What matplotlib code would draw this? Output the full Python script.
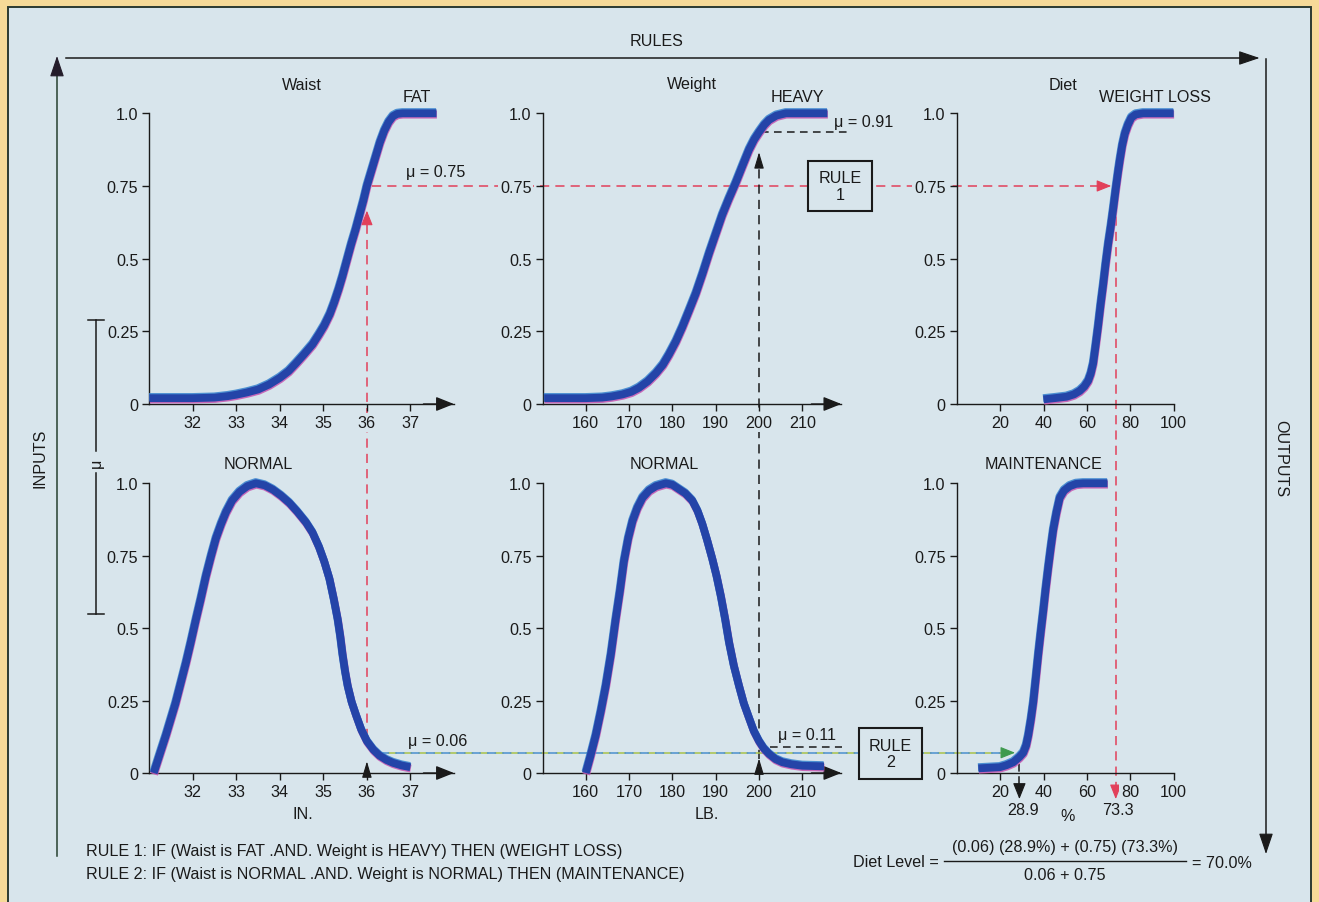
import matplotlib
matplotlib.use("Agg")
import matplotlib.pyplot as plt
from matplotlib.patches import Rectangle
import matplotlib.patheffects as pe

# ---------------- data ----------------
waist_fat_x = [31.0, 32.0, 32.5, 32.8, 33.0, 33.25, 33.5, 33.75, 34.0, 34.2,
               34.37, 34.55, 34.75, 34.9, 35.02, 35.15, 35.25, 35.35, 35.44, 35.54,
               35.64, 35.74, 35.83, 35.92, 36.0, 36.1, 36.2, 36.3, 36.4, 36.5,
               36.6, 36.7, 36.82, 37.6]
waist_fat_mu = [0.02, 0.02, 0.022, 0.027, 0.032, 0.04, 0.05, 0.067, 0.09, 0.113,
                0.14, 0.17, 0.205, 0.24, 0.27, 0.31, 0.35, 0.395, 0.44, 0.495,
                0.55, 0.60, 0.65, 0.70, 0.75, 0.80, 0.85, 0.90, 0.94, 0.97,
                0.99, 0.998, 1.0, 1.0]

waist_normal_x = [31.1, 31.25, 31.38, 31.5, 31.6, 31.72, 31.84, 31.95, 32.07, 32.18,
                  32.3, 32.42, 32.53, 32.65, 32.76, 32.9, 33.07, 33.25, 33.45, 33.65,
                  33.84, 34.03, 34.22, 34.4, 34.6, 34.75, 34.9, 35.02, 35.14, 35.24,
                  35.33, 35.39, 35.44, 35.5, 35.56, 35.65, 35.75, 35.87, 36.0, 36.15,
                  36.29, 36.45, 36.6, 36.8, 37.0]
waist_normal_mu = [0.0, 0.07, 0.13, 0.19, 0.24, 0.31, 0.38, 0.45, 0.53, 0.60,
                   0.68, 0.75, 0.81, 0.86, 0.90, 0.94, 0.97, 0.99, 1.0, 0.993,
                   0.978, 0.957, 0.932, 0.902, 0.865, 0.83, 0.78, 0.73, 0.67, 0.60,
                   0.53, 0.47, 0.41, 0.35, 0.30, 0.245, 0.20, 0.15, 0.11, 0.08,
                   0.06, 0.045, 0.035, 0.026, 0.02]

weight_heavy_x = [150.4, 160.0, 163.8, 166.0, 168.5, 170.5, 172.3, 174.3, 176.2, 177.8,
                  179.2, 180.8, 182.3, 183.8, 185.4, 187.0, 188.5, 190.0, 191.5, 193.0,
                  194.6, 196.2, 197.7, 198.9, 200.0, 201.2, 202.3, 204.0, 206.2, 215.8]
weight_heavy_mu = [0.02, 0.02, 0.022, 0.026, 0.033, 0.042, 0.056, 0.078, 0.106, 0.135,
                   0.17, 0.215, 0.265, 0.32, 0.38, 0.45, 0.52, 0.585, 0.65, 0.705,
                   0.76, 0.82, 0.875, 0.91, 0.935, 0.96, 0.977, 0.992, 1.0, 1.0]

weight_normal_x = [160.0, 161.1, 162.3, 163.5, 164.6, 165.8, 166.9, 167.9, 168.8, 169.8,
                   170.8, 171.9, 173.1, 174.6, 176.2, 178.5, 180.0, 181.5, 183.0, 184.6,
                   185.8, 186.9, 188.0, 189.2, 190.2, 191.2, 192.2, 193.1, 194.2, 195.4,
                   196.5, 197.7, 198.8, 200.0, 201.1, 202.3, 203.8, 205.4, 207.5, 210.0,
                   215.0]
weight_normal_mu = [0.0, 0.06, 0.13, 0.215, 0.30, 0.41, 0.53, 0.63, 0.73, 0.81,
                    0.87, 0.915, 0.95, 0.975, 0.99, 1.0, 0.995, 0.98, 0.965, 0.94,
                    0.905, 0.86, 0.805, 0.74, 0.68, 0.61, 0.53, 0.45, 0.37, 0.30,
                    0.24, 0.19, 0.145, 0.11, 0.085, 0.066, 0.048, 0.037, 0.03, 0.025,
                    0.023]

diet_loss_x = [40.0, 45.0, 50.6, 54.0, 56.7, 58.8, 60.6, 61.8, 62.9, 64.0,
               65.2, 66.3, 67.5, 68.6, 69.8, 71.0, 72.1, 73.3, 74.4, 75.2,
               76.3, 77.5, 78.9, 80.5, 82.5, 85.9, 100.0]
diet_loss_mu = [0.016, 0.02, 0.025, 0.033, 0.045, 0.06, 0.08, 0.105, 0.14, 0.20,
                0.27, 0.34, 0.41, 0.48, 0.55, 0.61, 0.67, 0.74, 0.80, 0.84,
                0.89, 0.93, 0.96, 0.985, 0.996, 1.0, 1.0]

diet_maint_x = [10.0, 15.0, 19.9, 23.0, 26.1, 28.9, 30.7, 32.0, 33.0, 34.2,
                35.3, 36.5, 37.6, 38.8, 39.9, 41.0, 42.2, 43.4, 44.5, 46.0,
                47.5, 49.5, 52.1, 55.0, 58.3, 69.5]
diet_maint_mu = [0.016, 0.018, 0.02, 0.027, 0.037, 0.055, 0.07, 0.095, 0.13, 0.185,
                 0.245, 0.33, 0.41, 0.49, 0.56, 0.635, 0.71, 0.78, 0.84, 0.90,
                 0.95, 0.975, 0.99, 0.998, 1.0, 1.0]

waist_ticks = [32, 33, 34, 35, 36, 37]
weight_ticks = [160, 170, 180, 190, 200, 210]
diet_ticks = [20, 40, 60, 80, 100]
mu_ticks = [0, 0.25, 0.5, 0.75, 1.0]
mu_tick_labels = ["0", "0.25", "0.5", "0.75", "1.0"]

waist_input = 36
weight_input = 200
mu_fat, mu_heavy, mu_wnormal, mu_lnormal = 0.75, 0.91, 0.06, 0.11
out_maint, out_loss, diet_level = 28.9, 73.3, 70.0

# ---------------- style ----------------
FONT = ["Liberation Sans Narrow", "Liberation Sans", "DejaVu Sans"]
plt.rcParams["font.family"] = FONT
FS = 11.6
YELLOW = "#f6da98"
PANEL = "#d8e5ec"
BLUE = "#2444a8"
RED = "#e2405a"
INK = "#1a1a1a"

W, H = 1319, 903
fig = plt.figure(figsize=(W / 100, H / 100), dpi=100)
fig.patch.set_facecolor(YELLOW)

bg = fig.add_axes([0, 0, 1, 1], zorder=0)
bg.set_xlim(0, W)
bg.set_ylim(H, 0)
bg.axis("off")
bg.add_patch(Rectangle((0, 0), W, H, fc=YELLOW, ec="none"))
bg.add_patch(Rectangle((8, 8), 1303, 905, fc=PANEL, ec="#2b3a31", lw=1.4))


def rect_px(left, top, width, height):
    return [left / W, 1 - (top + height) / H, width / W, height / H]


# panel geometry (pixels)
cols = {"waist": (149.4, 304.5, (31, 38)),
        "weight": (542.5, 298.8, (150, 219)),
        "diet": (956.7, 217.0, (0, 100))}
rows = {"top": (114.3, 290.7), "bot": (484.3, 289.7)}


def make_panel(col, row, xticks, arrow):
    left, width, xl = cols[col]
    top, height = rows[row]
    ax = fig.add_axes(rect_px(left, top, width, height), zorder=1)
    ax.set_facecolor("none")
    ax.set_xlim(*xl)
    ax.set_ylim(0, 1)
    for s in ("top", "right"):
        ax.spines[s].set_visible(False)
    for s in ("left", "bottom"):
        ax.spines[s].set_color(INK)
        ax.spines[s].set_linewidth(1.0)
    ax.set_xticks(xticks, [str(t) for t in xticks])
    ax.set_yticks(mu_ticks, mu_tick_labels)
    ax.tick_params(direction="out", length=5, width=1.0, colors=INK,
                   labelsize=FS, pad=3)
    for lab in ax.get_xticklabels() + ax.get_yticklabels():
        lab.set_bbox(dict(fc=PANEL, ec="none", pad=1.5))
    if arrow:
        ax.annotate("", xy=(1.0, 0), xytext=(0.9, 0), xycoords="axes fraction",
                    arrowprops=dict(arrowstyle="-|>,head_length=0.55,head_width=0.22",
                                    color=INK, lw=1.0, shrinkA=0, shrinkB=0,
                                    mutation_scale=20))
    return ax


axTL = make_panel("waist", "top", waist_ticks, True)
axTM = make_panel("weight", "top", weight_ticks, True)
axTR = make_panel("diet", "top", diet_ticks, False)
axBL = make_panel("waist", "bot", waist_ticks, True)
axBM = make_panel("weight", "bot", weight_ticks, True)
axBR = make_panel("diet", "bot", diet_ticks, False)

curve_fx = [pe.SimpleLineShadow(offset=(0.3, -1.0), shadow_color="#c65cb4", alpha=0.9),
            pe.SimpleLineShadow(offset=(-0.3, 0.9), shadow_color="#3d86cf", alpha=0.9),
            pe.Normal()]
for ax, xs, ys in [(axTL, waist_fat_x, waist_fat_mu),
                   (axTM, weight_heavy_x, weight_heavy_mu),
                   (axTR, diet_loss_x, diet_loss_mu),
                   (axBL, waist_normal_x, waist_normal_mu),
                   (axBM, weight_normal_x, weight_normal_mu),
                   (axBR, diet_maint_x, diet_maint_mu)]:
    ax.plot(xs, ys, color=BLUE, lw=5.6, solid_capstyle="butt",
            solid_joinstyle="round", clip_on=False, zorder=5, path_effects=curve_fx)


def P(ax, x, y):
    d = ax.transData.transform((x, y))
    return bg.transData.inverted().transform(d)


def head(tip, frm, color, hl=0.45, hw=0.18, ms=20):
    bg.annotate("", xy=tip, xytext=frm,
                arrowprops=dict(arrowstyle=f"-|>,head_length={hl},head_width={hw}",
                                color=color, lw=0.8, shrinkA=0, shrinkB=0,
                                mutation_scale=ms), zorder=4)


def dashed(p1, p2, color, lw=1.1, dash=(6, 4), offset=0, z=3):
    bg.plot([p1[0], p2[0]], [p1[1], p2[1]], color=color, lw=lw,
            ls=(offset, dash), zorder=z, solid_capstyle="butt")


# ---- red path: waist 36 -> mu 0.75 -> weight loss 73.3 ----
a = P(axBL, waist_input, 0.12)
b = P(axTL, waist_input, 0.665)
dashed(a, (b[0], b[1] + 10), RED)
head(b, (b[0], b[1] + 12), RED)

a = P(axTL, 36.12, mu_fat)
b = P(axTR, 71.2, mu_fat)
dashed(a, (b[0] - 10, b[1]), RED)
head(b, (b[0] - 12, b[1]), RED)

a = P(axTR, out_loss, mu_fat)
b = P(axBR, out_loss, -0.09)
dashed(a, (b[0], b[1] - 9), RED)
head(b, (b[0], b[1] - 11), RED)

# ---- black path: weight 200 ----
a = P(axBM, weight_input, 0.05)
b = P(axTM, weight_input, 0.866)
dashed(a, (b[0], b[1] + 10), INK)
head(b, (b[0], b[1] + 12), INK, hl=0.5, hw=0.15)
b = P(axBM, weight_input, 0.05)
head(b, (b[0], b[1] + 12), INK, hl=0.5, hw=0.15)

b = P(axBL, waist_input, 0.04)
head(b, (b[0], b[1] + 12), INK, hl=0.5, hw=0.15)

# mu = 0.91 and mu = 0.11 leader lines
dashed(P(axTM, 200.5, 0.934), P(axTM, 220.8, 0.934), INK, dash=(5, 3.5))
dashed(P(axBM, 202.5, 0.089), P(axBM, 219.1, 0.089), INK, dash=(5, 3.5))

# ---- green/blue path: mu 0.06 -> maintenance ----
a = P(axBL, 36.3, 0.07)
b = P(axBR, 26.9, 0.07)
dashed(a, (b[0] - 10, b[1]), "#a9c24a", lw=1.1, offset=5)
dashed(a, (b[0] - 10, b[1]), "#4a8fcf", lw=1.1)
head(b, (b[0] - 12, b[1]), "#3e9a4e")

# output arrow at 28.9
a = P(axBR, out_maint, 0.03)
b = P(axBR, out_maint, -0.09)
dashed(a, (b[0], b[1] - 9), INK, dash=(5, 3))
head(b, (b[0], b[1] - 12), INK, hl=0.5, hw=0.2)

# ---- rule boxes ----
bg.add_patch(Rectangle((808, 162), 64, 50, fc=PANEL, ec=INK, lw=1.5, zorder=6))
bg.text(840, 187, "RULE\n1", ha="center", va="center", fontsize=FS,
        linespacing=1.15, color=INK, zorder=7)
bg.add_patch(Rectangle((859, 729), 63, 51, fc=PANEL, ec=INK, lw=1.5, zorder=6))
bg.text(890.5, 754.5, "RULE\n2", ha="center", va="center", fontsize=FS,
        linespacing=1.15, color=INK, zorder=7)

# ---- frame arrows ----
bg.plot([65.7, 1245], [59, 59], color=INK, lw=1.1)
head((1259.5, 59), (1240, 59), INK, hl=0.65, hw=0.22)
bg.plot([57, 57], [857, 72], color="#26402f", lw=1.1)
head((57, 57), (57, 76), "#241c2a", hl=0.65, hw=0.22)
bg.plot([1266, 1266], [60, 840], color=INK, lw=1.1)
head((1266, 855), (1266, 836), INK, hl=0.65, hw=0.22)

# mu bracket
bg.plot([96, 96], [321, 452], color=INK, lw=1.1)
bg.plot([96, 96], [474, 615], color=INK, lw=1.1)
bg.plot([88, 104], [321, 321], color=INK, lw=1.1)
bg.plot([88, 104], [615, 615], color=INK, lw=1.1)
bg.text(96, 463, "\u03bc", rotation=90, ha="center", va="center", fontsize=FS, color=INK)

# ---- texts ----
def T(x, y, s, **kw):
    kw.setdefault("ha", "center")
    kw.setdefault("va", "center")
    kw.setdefault("fontsize", FS)
    kw.setdefault("color", INK)
    bg.text(x, y, s, zorder=8, **kw)


T(657, 42, "RULES")
T(40, 458, "INPUTS", rotation=90)
T(1281, 459, "OUTPUTS", rotation=-90)
T(302, 85, "Waist")
T(417, 97, "FAT")
T(692, 85, "Weight")
T(797, 97, "HEAVY")
T(1063, 85, "Diet")
T(1154.5, 97, "WEIGHT LOSS")
T(258, 465, "NORMAL")
T(664, 465, "NORMAL")
T(1043, 465, "MAINTENANCE")
T(436, 172, f"\u03bc = {mu_fat:.2f}")
T(864, 123, f"\u03bc = {mu_heavy:.2f}")
T(438, 742, f"\u03bc = {mu_wnormal:.2f}")
T(807, 736, f"\u03bc = {mu_lnormal:.2f}")
T(303, 815, "IN.")
T(707, 815, "LB.")
T(1022.8, 811, f"{out_maint}")
T(1067.4, 817, "%")
T(1118, 811, f"{out_loss}")
T(86, 852, "RULE 1: IF (Waist is FAT .AND. Weight is HEAVY) THEN (WEIGHT LOSS)", ha="left")
T(86, 875, "RULE 2: IF (Waist is NORMAL .AND. Weight is NORMAL) THEN (MAINTENANCE)", ha="left")
T(939, 863, "Diet Level =", ha="right")
T(1065, 848, f"({mu_wnormal:.2f}) ({out_maint}%) + ({mu_fat:.2f}) ({out_loss}%)")
bg.plot([944, 1186], [862, 862], color=INK, lw=1.0)
T(1065, 876, f"{mu_wnormal:.2f} + {mu_fat:.2f}")
T(1192, 864, f"= {diet_level:.1f}%", ha="left")

fig.savefig("out.png", dpi=100, facecolor=YELLOW)
